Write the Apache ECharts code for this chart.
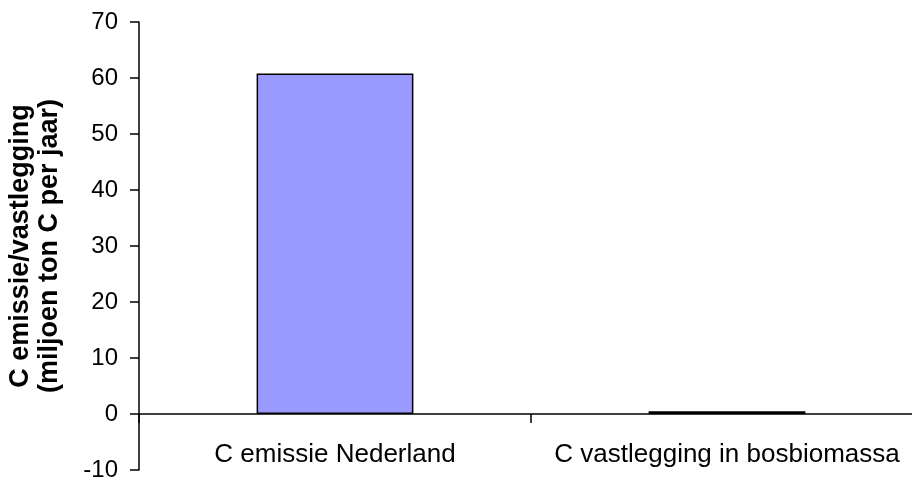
<!DOCTYPE html>
<html>
<head>
<meta charset="utf-8">
<script src="https://cdn.jsdelivr.net/npm/echarts@6/dist/echarts.min.js"></script>
<style>
  html, body { margin: 0; padding: 0; background: #ffffff; }
  #chart { width: 912px; height: 479px; }
</style>
</head>
<body>
<div id="chart"></div>
<script>
// Koolstofbalans: emissie vs. vastlegging (miljoen ton C per jaar)
const categories = ['C emissie Nederland', 'C vastlegging in bosbiomassa'];
const values = [60.8, 0.5];
const yTicks = { min: -10, max: 70, interval: 10 };
const yTitle = 'C emissie/vastlegging\n(miljoen ton C per jaar)';

const chart = echarts.init(document.getElementById('chart'), null, { renderer: 'canvas' });

chart.setOption({
  animation: false,
  backgroundColor: '#ffffff',
  textStyle: { fontFamily: 'Liberation Sans, Arial, sans-serif' },
  grid: { left: 139, right: -11, top: 22, bottom: 9, containLabel: false, outerBoundsMode: 'none' },
  xAxis: {
    type: 'category',
    data: categories,
    axisLine: { onZero: true, lineStyle: { color: '#000', width: 1.5 } },
    axisTick: { show: true, interval: 0, length: 9, lineStyle: { color: '#000', width: 1.5 } },
    axisLabel: { color: '#000', fontSize: 26, margin: -28, interval: 0, hideOverlap: false }
  },
  yAxis: {
    type: 'value',
    min: yTicks.min,
    max: yTicks.max,
    interval: yTicks.interval,
    name: yTitle,
    nameLocation: 'middle',
    nameGap: 75,
    nameRotate: 90,
    nameTextStyle: { color: '#000', fontSize: 27, fontWeight: 'bold', lineHeight: 29 },
    axisLine: { show: true, onZero: false, lineStyle: { color: '#000', width: 1.5 } },
    axisTick: { show: true, length: 9, lineStyle: { color: '#000', width: 1.5 } },
    axisLabel: { color: '#000', fontSize: 24, margin: 21 },
    splitLine: { show: false }
  },
  series: [{
    type: 'bar',
    data: values,
    barWidth: '40%',
    itemStyle: { color: '#9999ff', borderColor: '#000', borderWidth: 1.5 }
  }]
});
</script>
</body>
</html>
